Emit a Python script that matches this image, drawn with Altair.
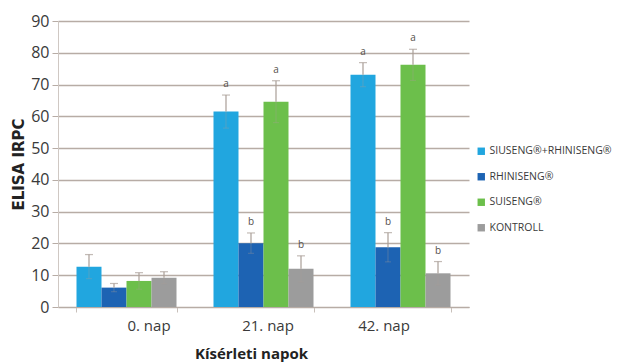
import altair as alt
import pandas as pd

# Days of sampling and vaccine groups
days = ["0. nap", "21. nap", "42. nap"]
groups = ["SIUSENG®+RHINISENG®", "RHINISENG®", "SUISENG®", "KONTROLL"]
colors = ["#21a6df", "#1d63b3", "#6cbf4b", "#9c9c9c"]

# Mean ELISA IRPC per group (in order of days)
combo_mean = [12.7, 61.5, 73.1]
rhin_mean = [6.1, 20.1, 18.8]
suis_mean = [8.2, 64.6, 76.2]
kontroll_mean = [9.2, 12.0, 10.6]

# Standard deviations
combo_sd = [3.8, 5.2, 3.8]
rhin_sd = [1.3, 3.2, 4.6]
suis_sd = [2.6, 6.6, 4.9]
kontroll_sd = [1.9, 4.1, 3.7]

# Significance letters
combo_sig = ["", "a", "a"]
rhin_sig = ["", "b", "b"]
suis_sig = ["", "a", "a"]
kontroll_sig = ["", "b", "b"]

rows = []
for g, means, sds, sigs in zip(
    groups,
    [combo_mean, rhin_mean, suis_mean, kontroll_mean],
    [combo_sd, rhin_sd, suis_sd, kontroll_sd],
    [combo_sig, rhin_sig, suis_sig, kontroll_sig],
):
    for d, m, s, l in zip(days, means, sds, sigs):
        rows.append({"nap": d, "csoport": g, "ertek": m,
                     "hi": m + s, "lo": m - s, "betu": l})
df = pd.DataFrame(rows)

FONT = "Open Sans"
GRID = "#b7aca5"
TEXT = "#3a3a3a"
ERR = "#a99e97"

x_axis = alt.Axis(
    title="Kísérleti napok", labelAngle=0,
    labelFontSize=15, labelColor=TEXT, labelFont=FONT, labelPadding=6,
    labelOffset={"condition": [
        {"test": "datum.value == '0. nap'", "value": 22},
        {"test": "datum.value == '42. nap'", "value": -17},
    ], "value": 4},
    tickBand="extent", tickSize=5, tickColor="#c8c0ba", domainColor=GRID,
    titleFont=FONT, titleFontSize=15, titleFontWeight="bold",
    titleColor="#222222", titleX=193, titleY=46, titleBaseline="middle",
)
y_axis = alt.Axis(
    title="ELISA IRPC", values=list(range(0, 91, 10)),
    labelFontSize=16, labelColor=TEXT, labelFont=FONT, labelPadding=3,
    tickSize=6, tickColor=GRID, gridColor=GRID, gridWidth=1.4,
    domainColor="#cfc8c3",
    titleFont="DejaVu Sans", titleFontSize=15, titleFontWeight="bold",
    titleColor="#222222", titlePadding=4,
)

x_enc = alt.X("nap:N", sort=days,
              scale=alt.Scale(paddingInner=0.27, paddingOuter=0.135),
              axis=x_axis)
xo_enc = alt.XOffset("csoport:N", sort=groups,
                     scale=alt.Scale(paddingInner=0, paddingOuter=0))
y_scale = alt.Scale(domain=[0, 90], nice=False)


def y(field):
    return alt.Y(field, scale=y_scale, axis=y_axis)


base = alt.Chart(df)

bars = base.mark_bar(size=25).encode(
    x=x_enc,
    xOffset=xo_enc,
    y=y("ertek:Q"),
    color=alt.Color("csoport:N", sort=groups,
                    scale=alt.Scale(domain=groups, range=colors),
                    legend=alt.Legend(title=None, orient="none",
                                      legendX=418, legendY=125,
                                      symbolType="square", symbolSize=55,
                                      symbolStrokeWidth=0,
                                      labelFont=FONT, labelFontSize=10.5,
                                      labelColor=TEXT, rowPadding=14.5,
                                      labelOffset=3)),
)

err_up = base.mark_rule(color=ERR, strokeWidth=1.2).encode(
    x=x_enc, xOffset=xo_enc, y=y("ertek:Q"), y2="hi:Q")
err_lo = base.mark_rule(color=ERR, strokeWidth=1, opacity=0.35).encode(
    x=x_enc, xOffset=xo_enc, y=y("lo:Q"), y2="ertek:Q")
cap_up = base.mark_tick(color=ERR, size=8, thickness=1.2,
                        orient="horizontal").encode(
    x=x_enc, xOffset=xo_enc, y=y("hi:Q"))
cap_lo = base.mark_tick(color=ERR, size=6, thickness=1, opacity=0.35,
                        orient="horizontal").encode(
    x=x_enc, xOffset=xo_enc, y=y("lo:Q"))

letters = base.mark_text(font=FONT, fontSize=10, color="#55504b",
                         baseline="bottom", dy=-6).encode(
    x=x_enc, xOffset=xo_enc, y=y("hi:Q"), text="betu:N")

chart = alt.layer(bars, err_lo, cap_lo, err_up, cap_up, letters).properties(
    width=411, height=286,
    autosize=alt.AutoSizeParams(type="none"),
    padding={"left": 58, "top": 21, "right": 149, "bottom": 55},
    background="white",
).configure_view(stroke=None)

chart.save("out.html", embed_options={"renderer": "svg", "actions": False})
